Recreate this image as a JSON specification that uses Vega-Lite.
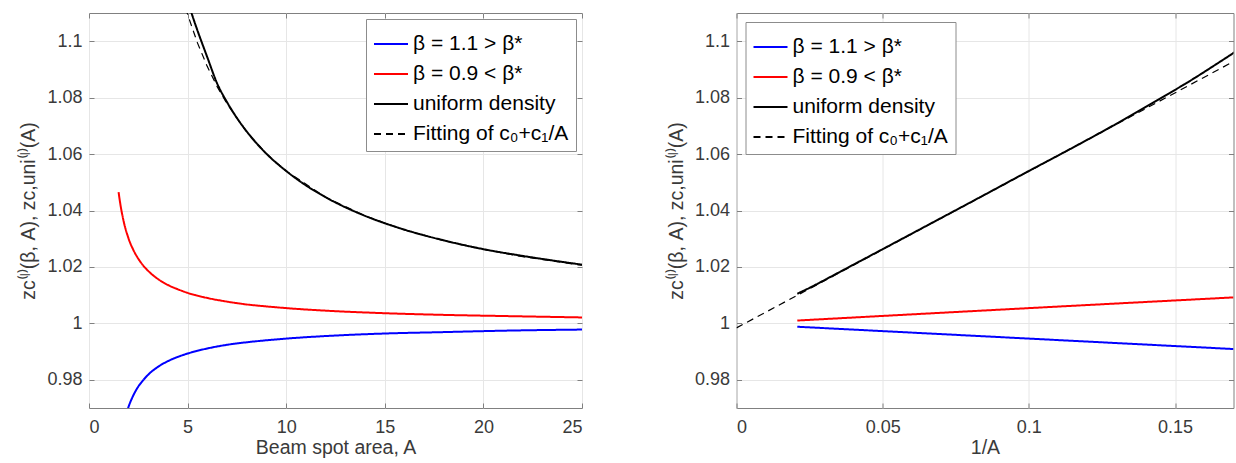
{
  "$schema": "https://vega.github.io/schema/vega-lite/v6.json",
  "padding": {"left": 18, "top": 12, "right": 1, "bottom": 4},
  "bounds": "flush",
  "spacing": 154.5,
  "datasets": {
    "left": [
      {"s": "β = 1.1 > β*", "A": 1.5, "z": 0.9543},
      {"s": "β = 1.1 > β*", "A": 1.6, "z": 0.9589},
      {"s": "β = 1.1 > β*", "A": 1.75, "z": 0.9642},
      {"s": "β = 1.1 > β*", "A": 2, "z": 0.9703},
      {"s": "β = 1.1 > β*", "A": 2.25, "z": 0.9745},
      {"s": "β = 1.1 > β*", "A": 2.5, "z": 0.9776},
      {"s": "β = 1.1 > β*", "A": 2.75, "z": 0.9799},
      {"s": "β = 1.1 > β*", "A": 3, "z": 0.9818},
      {"s": "β = 1.1 > β*", "A": 3.5, "z": 0.9846},
      {"s": "β = 1.1 > β*", "A": 4, "z": 0.9866},
      {"s": "β = 1.1 > β*", "A": 4.5, "z": 0.9881},
      {"s": "β = 1.1 > β*", "A": 5, "z": 0.9893},
      {"s": "β = 1.1 > β*", "A": 6, "z": 0.9911},
      {"s": "β = 1.1 > β*", "A": 7, "z": 0.9924},
      {"s": "β = 1.1 > β*", "A": 8, "z": 0.9933},
      {"s": "β = 1.1 > β*", "A": 9, "z": 0.994},
      {"s": "β = 1.1 > β*", "A": 10, "z": 0.9946},
      {"s": "β = 1.1 > β*", "A": 12, "z": 0.9955},
      {"s": "β = 1.1 > β*", "A": 15, "z": 0.9964},
      {"s": "β = 1.1 > β*", "A": 18, "z": 0.9969},
      {"s": "β = 1.1 > β*", "A": 21, "z": 0.9974},
      {"s": "β = 1.1 > β*", "A": 25, "z": 0.9978},
      {"s": "β = 0.9 < β*", "A": 1.5, "z": 1.0465},
      {"s": "β = 0.9 < β*", "A": 1.6, "z": 1.0418},
      {"s": "β = 0.9 < β*", "A": 1.75, "z": 1.0364},
      {"s": "β = 0.9 < β*", "A": 2, "z": 1.0302},
      {"s": "β = 0.9 < β*", "A": 2.25, "z": 1.026},
      {"s": "β = 0.9 < β*", "A": 2.5, "z": 1.0229},
      {"s": "β = 0.9 < β*", "A": 2.75, "z": 1.0205},
      {"s": "β = 0.9 < β*", "A": 3, "z": 1.0186},
      {"s": "β = 0.9 < β*", "A": 3.5, "z": 1.0157},
      {"s": "β = 0.9 < β*", "A": 4, "z": 1.0136},
      {"s": "β = 0.9 < β*", "A": 4.5, "z": 1.0121},
      {"s": "β = 0.9 < β*", "A": 5, "z": 1.0108},
      {"s": "β = 0.9 < β*", "A": 6, "z": 1.009},
      {"s": "β = 0.9 < β*", "A": 7, "z": 1.0077},
      {"s": "β = 0.9 < β*", "A": 8, "z": 1.0067},
      {"s": "β = 0.9 < β*", "A": 9, "z": 1.006},
      {"s": "β = 0.9 < β*", "A": 10, "z": 1.0054},
      {"s": "β = 0.9 < β*", "A": 12, "z": 1.0045},
      {"s": "β = 0.9 < β*", "A": 15, "z": 1.0036},
      {"s": "β = 0.9 < β*", "A": 18, "z": 1.003},
      {"s": "β = 0.9 < β*", "A": 21, "z": 1.0026},
      {"s": "β = 0.9 < β*", "A": 25, "z": 1.0021},
      {"s": "uniform density", "A": 5, "z": 1.1145},
      {"s": "uniform density", "A": 5.25, "z": 1.1089},
      {"s": "uniform density", "A": 5.5, "z": 1.1038},
      {"s": "uniform density", "A": 5.75, "z": 1.099},
      {"s": "uniform density", "A": 6, "z": 1.0943},
      {"s": "uniform density", "A": 6.5, "z": 1.085},
      {"s": "uniform density", "A": 7, "z": 1.0784},
      {"s": "uniform density", "A": 7.5, "z": 1.0728},
      {"s": "uniform density", "A": 8, "z": 1.068},
      {"s": "uniform density", "A": 9, "z": 1.0601},
      {"s": "uniform density", "A": 10, "z": 1.054},
      {"s": "uniform density", "A": 11, "z": 1.0489},
      {"s": "uniform density", "A": 12, "z": 1.0447},
      {"s": "uniform density", "A": 14, "z": 1.0381},
      {"s": "uniform density", "A": 16, "z": 1.0332},
      {"s": "uniform density", "A": 18, "z": 1.0294},
      {"s": "uniform density", "A": 20, "z": 1.0263},
      {"s": "uniform density", "A": 22, "z": 1.0239},
      {"s": "uniform density", "A": 25, "z": 1.0208},
      {"s": "Fitting of c₀+c₁/A", "A": 4.9, "z": 1.1118},
      {"s": "Fitting of c₀+c₁/A", "A": 5, "z": 1.1095},
      {"s": "Fitting of c₀+c₁/A", "A": 5.5, "z": 1.0994},
      {"s": "Fitting of c₀+c₁/A", "A": 6, "z": 1.091},
      {"s": "Fitting of c₀+c₁/A", "A": 6.5, "z": 1.0839},
      {"s": "Fitting of c₀+c₁/A", "A": 7, "z": 1.0778},
      {"s": "Fitting of c₀+c₁/A", "A": 8, "z": 1.0678},
      {"s": "Fitting of c₀+c₁/A", "A": 9, "z": 1.0601},
      {"s": "Fitting of c₀+c₁/A", "A": 10, "z": 1.054},
      {"s": "Fitting of c₀+c₁/A", "A": 12, "z": 1.0447},
      {"s": "Fitting of c₀+c₁/A", "A": 14, "z": 1.0381},
      {"s": "Fitting of c₀+c₁/A", "A": 16, "z": 1.0331},
      {"s": "Fitting of c₀+c₁/A", "A": 18, "z": 1.0293},
      {"s": "Fitting of c₀+c₁/A", "A": 20, "z": 1.0262},
      {"s": "Fitting of c₀+c₁/A", "A": 22, "z": 1.0236},
      {"s": "Fitting of c₀+c₁/A", "A": 25, "z": 1.0206}
    ],
    "right": [
      {"s": "β = 1.1 > β*", "u": 0.0208, "z": 0.9988},
      {"s": "β = 1.1 > β*", "u": 0.1, "z": 0.9946},
      {"s": "β = 1.1 > β*", "u": 0.17, "z": 0.9909},
      {"s": "β = 0.9 < β*", "u": 0.0208, "z": 1.001},
      {"s": "β = 0.9 < β*", "u": 0.1, "z": 1.0054},
      {"s": "β = 0.9 < β*", "u": 0.17, "z": 1.0092},
      {"s": "uniform density", "u": 0.0208, "z": 1.0105},
      {"s": "uniform density", "u": 0.025, "z": 1.0126},
      {"s": "uniform density", "u": 0.0333, "z": 1.0171},
      {"s": "uniform density", "u": 0.04, "z": 1.0208},
      {"s": "uniform density", "u": 0.05, "z": 1.0263},
      {"s": "uniform density", "u": 0.0625, "z": 1.0332},
      {"s": "uniform density", "u": 0.0833, "z": 1.0447},
      {"s": "uniform density", "u": 0.1, "z": 1.054},
      {"s": "uniform density", "u": 0.1111, "z": 1.0601},
      {"s": "uniform density", "u": 0.125, "z": 1.0679},
      {"s": "uniform density", "u": 0.1333, "z": 1.0727},
      {"s": "uniform density", "u": 0.1429, "z": 1.0785},
      {"s": "uniform density", "u": 0.1538, "z": 1.0851},
      {"s": "uniform density", "u": 0.1667, "z": 1.0936},
      {"s": "uniform density", "u": 0.1739, "z": 1.0985},
      {"s": "Fitting of c₀+c₁/A", "u": 0, "z": 0.9984},
      {"s": "Fitting of c₀+c₁/A", "u": 0.17, "z": 1.0928}
    ]
  },
  "config": {
    "font": "Liberation Sans",
    "view": {"stroke": "#808080", "strokeWidth": 1},
    "axis": {
      "domain": false,
      "grid": true,
      "gridColor": "#e6e6e6",
      "gridWidth": 1,
      "tickColor": "#808080",
      "tickSize": -5,
      "labelFont": "Liberation Sans",
      "labelFontSize": 18,
      "labelColor": "#3a3a3a",
      "titleFont": "Liberation Sans",
      "titleFontSize": 19.5,
      "titleFontWeight": "normal",
      "titleColor": "#3a3a3a"
    },
    "legend": {
      "title": null,
      "symbolType": "stroke",
      "symbolSize": 1156,
      "symbolStrokeWidth": 2,
      "labelFont": "Liberation Sans",
      "labelFontSize": 21,
      "labelColor": "#000000",
      "labelOffset": 4,
      "rowPadding": 2,
      "padding": 7,
      "strokeColor": "#8c8c8c",
      "fillColor": "#ffffff",
      "labelLimit": 400
    }
  },
  "resolve": {
    "scale": {"color": "independent", "strokeDash": "independent"},
    "legend": {"color": "independent", "strokeDash": "independent"}
  },
  "hconcat": [
    {
      "width": 493,
      "height": 395,
      "data": {"name": "left"},
      "resolve": {"axis": {"x": "independent", "y": "independent"}},
      "layer": [
        {
          "transform": [{"filter": "datum.s !== 'Fitting of c₀+c₁/A'"}],
          "mark": {"type": "line", "clip": true, "strokeWidth": 2, "interpolate": "monotone"},
          "encoding": {
            "x": {"field": "A", "type": "quantitative", "scale": {"domain": [0, 25], "nice": false, "zero": false},
                  "axis": {"title": "Beam spot area, A", "values": [0, 5, 10, 15, 20, 25], "labelPadding": 15, "titlePadding": 2}},
            "y": {"field": "z", "type": "quantitative", "scale": {"domain": [0.97, 1.11], "nice": false, "zero": false},
                  "axis": {"title": "zc⁽ˡ⁾(β, A),  zc,uni⁽ˡ⁾(A)", "values": [0.98, 1, 1.02, 1.04, 1.06, 1.08, 1.1], "format": "~g", "labelPadding": 12, "titlePadding": 8}},
            "color": {"field": "s", "type": "nominal",
                      "scale": {"domain": ["β = 1.1 > β*", "β = 0.9 < β*", "uniform density", "Fitting of c₀+c₁/A"], "range": ["#0000ff", "#ff0000", "#000000", "#000000"]},
                      "legend": {"orient": "top-right", "offset": 6}},
            "strokeDash": {"field": "s", "type": "nominal",
                      "scale": {"domain": ["β = 1.1 > β*", "β = 0.9 < β*", "uniform density", "Fitting of c₀+c₁/A"], "range": [[1, 0], [1, 0], [1, 0], [7, 5]]},
                      "legend": {"orient": "top-right", "offset": 6}}
          }
        },
        {
          "transform": [{"filter": "datum.s === 'Fitting of c₀+c₁/A'"}],
          "mark": {"type": "line", "clip": true, "strokeWidth": 1.2},
          "encoding": {
            "x": {"field": "A", "type": "quantitative",
                  "axis": {"orient": "top", "title": null, "labels": false, "grid": false, "values": [0, 5, 10, 15, 20, 25]}},
            "y": {"field": "z", "type": "quantitative",
                  "axis": {"orient": "right", "title": null, "labels": false, "grid": false, "values": [0.98, 1, 1.02, 1.04, 1.06, 1.08, 1.1]}},
            "color": {"field": "s", "type": "nominal"},
            "strokeDash": {"field": "s", "type": "nominal"}
          }
        }
      ]
    },
    {
      "width": 497,
      "height": 395,
      "data": {"name": "right"},
      "resolve": {"axis": {"x": "independent", "y": "independent"}},
      "layer": [
        {
          "transform": [{"filter": "datum.s !== 'Fitting of c₀+c₁/A'"}],
          "mark": {"type": "line", "clip": true, "strokeWidth": 2, "interpolate": "monotone"},
          "encoding": {
            "x": {"field": "u", "type": "quantitative", "scale": {"domain": [0, 0.17], "nice": false, "zero": false},
                  "axis": {"title": "1/A", "values": [0, 0.05, 0.1, 0.15], "format": "~g", "labelPadding": 15, "titlePadding": 2}},
            "y": {"field": "z", "type": "quantitative", "scale": {"domain": [0.97, 1.11], "nice": false, "zero": false},
                  "axis": {"title": "zc⁽ˡ⁾(β, A),  zc,uni⁽ˡ⁾(A)", "values": [0.98, 1, 1.02, 1.04, 1.06, 1.08, 1.1], "format": "~g", "labelPadding": 12, "titlePadding": 8}},
            "color": {"field": "s", "type": "nominal",
                      "scale": {"domain": ["β = 1.1 > β*", "β = 0.9 < β*", "uniform density", "Fitting of c₀+c₁/A"], "range": ["#0000ff", "#ff0000", "#000000", "#000000"]},
                      "legend": {"orient": "top-left", "offset": 9}},
            "strokeDash": {"field": "s", "type": "nominal",
                      "scale": {"domain": ["β = 1.1 > β*", "β = 0.9 < β*", "uniform density", "Fitting of c₀+c₁/A"], "range": [[1, 0], [1, 0], [1, 0], [7, 5]]},
                      "legend": {"orient": "top-left", "offset": 9}}
          }
        },
        {
          "transform": [{"filter": "datum.s === 'Fitting of c₀+c₁/A'"}],
          "mark": {"type": "line", "clip": true, "strokeWidth": 1.2},
          "encoding": {
            "x": {"field": "u", "type": "quantitative",
                  "axis": {"orient": "top", "title": null, "labels": false, "grid": false, "values": [0, 0.05, 0.1, 0.15]}},
            "y": {"field": "z", "type": "quantitative",
                  "axis": {"orient": "right", "title": null, "labels": false, "grid": false, "values": [0.98, 1, 1.02, 1.04, 1.06, 1.08, 1.1]}},
            "color": {"field": "s", "type": "nominal"},
            "strokeDash": {"field": "s", "type": "nominal"}
          }
        }
      ]
    }
  ]
}
